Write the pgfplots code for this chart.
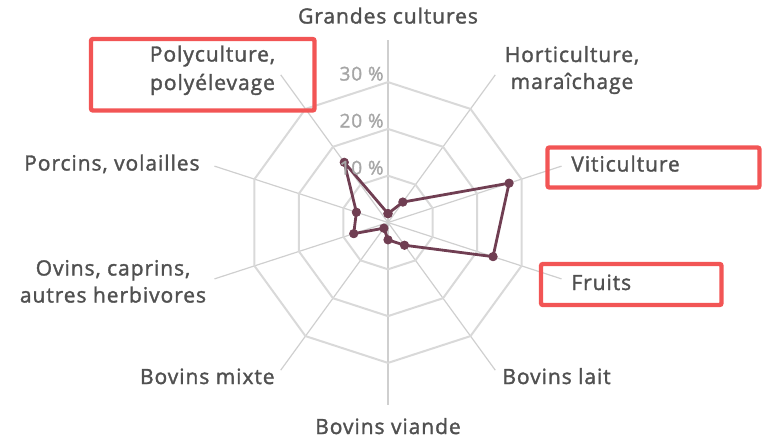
\documentclass[border=0pt]{standalone}
\usepackage{pgfplots}
\pgfplotsset{compat=1.18}
\usepackage{fontspec}
\setmainfont{Open Sans}
\newfontfamily\labfont{Open Sans}[FakeBold=1.6, LetterSpace=4.5]
\definecolor{gridc}{HTML}{D9D9D9}
\definecolor{spokec}{HTML}{CFCFCF}
\definecolor{datac}{RGB}{112,62,82}
\definecolor{labc}{HTML}{505050}
\definecolor{ringlab}{HTML}{A6A6A6}
\definecolor{boxc}{HTML}{F25555}
\begin{document}
\begin{tikzpicture}
\useasboundingbox (0,0) rectangle (381.5pt,220pt);
\begin{axis}[name=ax, hide axis, at={(0,0)}, anchor=south west,
  x=2.34pt, y=2.34pt, xmin=-82.906, xmax=80.128, ymin=-46.474, ymax=47.543,
  clip=false]
% spokes
\addplot[spokec, line width=0.6pt, data cs=polar] coordinates {(90,0) (90,39)};
\addplot[spokec, line width=0.6pt, data cs=polar] coordinates {(54,0) (54,39)};
\addplot[spokec, line width=0.6pt, data cs=polar] coordinates {(18,0) (18,39)};
\addplot[spokec, line width=0.6pt, data cs=polar] coordinates {(-18,0) (-18,39)};
\addplot[spokec, line width=0.6pt, data cs=polar] coordinates {(-54,0) (-54,39)};
\addplot[spokec, line width=0.6pt, data cs=polar] coordinates {(-90,0) (-90,39)};
\addplot[spokec, line width=0.6pt, data cs=polar] coordinates {(-126,0) (-126,39)};
\addplot[spokec, line width=0.6pt, data cs=polar] coordinates {(-162,0) (-162,39)};
\addplot[spokec, line width=0.6pt, data cs=polar] coordinates {(162,0) (162,39)};
\addplot[spokec, line width=0.6pt, data cs=polar] coordinates {(126,0) (126,39)};
% rings
\addplot[gridc, line width=1pt, data cs=polar] coordinates {(90,10)(54,10)(18,10)(-18,10)(-54,10)(-90,10)(-126,10)(-162,10)(162,10)(126,10)(90,10)};
\addplot[gridc, line width=1pt, data cs=polar] coordinates {(90,20)(54,20)(18,20)(-18,20)(-54,20)(-90,20)(-126,20)(-162,20)(162,20)(126,20)(90,20)};
\addplot[gridc, line width=1pt, data cs=polar] coordinates {(90,30)(54,30)(18,30)(-18,30)(-54,30)(-90,30)(-126,30)(-162,30)(162,30)(126,30)(90,30)};
% data
\addplot[datac, line width=1.4pt, line join=round, data cs=polar,
  mark=*, mark size=2.1pt, mark options={fill=datac, draw=datac, line width=0.4pt}]
  coordinates {(90,1.9) (54,5.4) (18,27.2) (-18,23.6) (-54,6.0) (-90,3.7) (-126,1.5) (-162,7.7) (162,7.1) (126,15.9) (90,1.9)};
\end{axis}
\begin{scope}[x=0.5pt, y=-0.5pt, yshift=220pt, every node/.style={text=labc, inner sep=0pt, font=\labfont\fontsize{10.5}{12}\selectfont}]
% ring labels
\node[anchor=base east, text=ringlab, font=\labfont\fontsize{9.5}{11}\selectfont] at (384,80.5) {30 \%};
\node[anchor=base east, text=ringlab, font=\labfont\fontsize{9.5}{11}\selectfont] at (384,127.5) {20 \%};
\node[anchor=base east, text=ringlab, font=\labfont\fontsize{9.5}{11}\selectfont] at (384,174.5) {10 \%};
% category labels
\node[anchor=base] at (388,23.5) {Grandes cultures};
\node[anchor=base] at (572,62) {Horticulture,};
\node[anchor=base] at (572,89) {maraîchage};
\node[anchor=base west] at (571,171.5) {Viticulture};
\node[anchor=base west] at (571,290) {Fruits};
\node[anchor=base west] at (502,384) {Bovins lait};
\node[anchor=base] at (388,434) {Bovins viande};
\node[anchor=base east] at (275,384) {Bovins mixte};
\node[anchor=base] at (113,275.5) {Ovins, caprins,};
\node[anchor=base] at (113,302.5) {autres herbivores};
\node[anchor=base east] at (200,170.5) {Porcins, volailles};
\node[anchor=base] at (212.5,61.5) {Polyculture,};
\node[anchor=base] at (212.5,90) {polyélevage};
% highlight boxes
\draw[boxc, line width=2.2pt, rounded corners=1pt] (91,39) rectangle (314.5,110.5);
\draw[boxc, line width=2.2pt, rounded corners=1pt] (547.5,147.5) rectangle (759.5,187.5);
\draw[boxc, line width=2.2pt, rounded corners=1pt] (541,264) rectangle (721.5,305);
\end{scope}
\end{tikzpicture}
\end{document}
